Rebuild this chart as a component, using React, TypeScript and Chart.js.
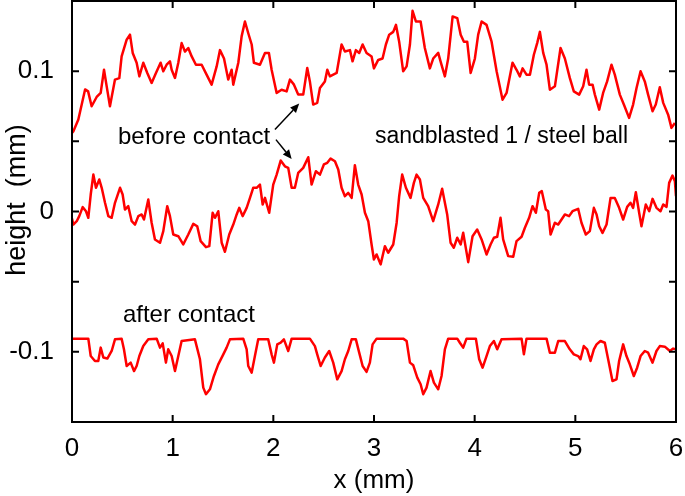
import React, { useEffect, useRef } from 'react';
import { Chart, registerables } from 'chart.js';

Chart.register(...registerables);

// Profile "before contact" (upper trace), x in mm, height in mm
const beforeUpper: [number, number][] = [
  [0, 0.056], [0.013, 0.057], [0.063, 0.0655], [0.13, 0.087], [0.16, 0.0856], [0.195, 0.075], [0.245, 0.0816],
  [0.285, 0.0845], [0.318, 0.101], [0.345, 0.089], [0.377, 0.075], [0.427, 0.094], [0.47, 0.095],
  [0.493, 0.1105], [0.543, 0.1224], [0.576, 0.126], [0.603, 0.113], [0.642, 0.106], [0.669, 0.0963],
  [0.708, 0.106], [0.748, 0.0987], [0.791, 0.0916], [0.834, 0.0987], [0.88, 0.106], [0.907, 0.0999],
  [0.94, 0.1046], [0.973, 0.107], [0.99, 0.101], [1.023, 0.0952], [1.056, 0.106], [1.089, 0.12],
  [1.122, 0.114], [1.155, 0.1165], [1.189, 0.1105], [1.231, 0.1046], [1.288, 0.1046], [1.337, 0.0975],
  [1.387, 0.0904], [1.437, 0.1034], [1.47, 0.115], [1.51, 0.109], [1.552, 0.094], [1.586, 0.101],
  [1.602, 0.0904], [1.652, 0.106], [1.685, 0.1248], [1.718, 0.1354], [1.751, 0.127], [1.785, 0.119],
  [1.807, 0.106], [1.867, 0.1046], [1.917, 0.113], [1.956, 0.113], [1.983, 0.101], [2.033, 0.0845],
  [2.082, 0.0868], [2.132, 0.0856], [2.165, 0.094], [2.205, 0.0904], [2.247, 0.0833], [2.297, 0.0833],
  [2.337, 0.1023], [2.363, 0.0927], [2.396, 0.0762], [2.436, 0.0774], [2.463, 0.088], [2.512, 0.0927],
  [2.536, 0.101], [2.562, 0.0963], [2.629, 0.0987], [2.678, 0.119], [2.711, 0.114], [2.761, 0.115],
  [2.787, 0.107], [2.82, 0.115], [2.853, 0.113], [2.887, 0.119], [2.926, 0.113], [2.976, 0.1105],
  [2.999, 0.102], [3.042, 0.108], [3.085, 0.109], [3.118, 0.119], [3.151, 0.126], [3.191, 0.128],
  [3.218, 0.133], [3.25, 0.121], [3.29, 0.0999], [3.324, 0.1034], [3.357, 0.119], [3.383, 0.143],
  [3.416, 0.1354], [3.463, 0.1354], [3.505, 0.1165], [3.555, 0.102], [3.588, 0.109], [3.638, 0.113],
  [3.661, 0.107], [3.704, 0.0963], [3.737, 0.109], [3.781, 0.139], [3.827, 0.1378], [3.861, 0.126],
  [3.893, 0.121], [3.926, 0.121], [3.96, 0.0987], [4.002, 0.109], [4.035, 0.126], [4.069, 0.1354],
  [4.118, 0.133], [4.168, 0.121], [4.218, 0.0999], [4.277, 0.0797], [4.317, 0.0845], [4.376, 0.106],
  [4.416, 0.101], [4.449, 0.0963], [4.476, 0.102], [4.515, 0.0975], [4.549, 0.0975], [4.588, 0.1117],
  [4.621, 0.12], [4.648, 0.128], [4.681, 0.113], [4.714, 0.1046], [4.747, 0.0868], [4.797, 0.0892],
  [4.853, 0.1165], [4.896, 0.109], [4.945, 0.0952], [4.985, 0.0856], [5.038, 0.0833], [5.078, 0.0892],
  [5.111, 0.101], [5.137, 0.0904], [5.171, 0.0904], [5.194, 0.0833], [5.237, 0.0726], [5.276, 0.0845],
  [5.316, 0.0927], [5.359, 0.1046], [5.392, 0.0975], [5.442, 0.0833], [5.482, 0.0762], [5.534, 0.0667],
  [5.574, 0.0762], [5.608, 0.088], [5.648, 0.0999], [5.69, 0.0927], [5.723, 0.0833], [5.767, 0.0714],
  [5.799, 0.0762], [5.839, 0.0885], [5.873, 0.0774], [5.922, 0.069], [5.955, 0.0596], [5.989, 0.0631],
];

// Profile "before contact" (middle trace)
const beforeLower: [number, number][] = [
  [0, -0.005], [0.013, -0.0093], [0.047, -0.0069], [0.072, -0.0033], [0.106, 0.0031], [0.139, 0.0002],
  [0.162, -0.0045], [0.186, 0.0121], [0.212, 0.0263], [0.238, 0.0169], [0.271, 0.0228], [0.295, 0.0169],
  [0.328, 0.0062], [0.361, -0.0033], [0.394, -0.0045], [0.427, 0.0062], [0.477, 0.0169], [0.503, 0.0121],
  [0.526, 0.0014], [0.559, 0.0038], [0.593, -0.0069], [0.626, -0.0093], [0.659, -0.0033], [0.692, -0.0021],
  [0.715, -0.0057], [0.758, 0.0085], [0.791, -0.008], [0.824, -0.0199], [0.874, -0.0223], [0.907, -0.014],
  [0.946, 0.0038], [0.973, -0.0033], [1.006, -0.0164], [1.056, -0.0176], [1.105, -0.0235], [1.155, -0.0164],
  [1.205, -0.0088], [1.244, -0.0105], [1.278, -0.0211], [1.331, -0.0254], [1.364, -0.0247], [1.397, -0.0009],
  [1.42, -0.0045], [1.453, 0.0002], [1.487, -0.0223], [1.519, -0.0287], [1.562, -0.0164], [1.602, -0.0093],
  [1.636, -0.0021], [1.661, 0.0026], [1.695, -0.0033], [1.735, 0.0026], [1.768, 0.0097], [1.8, 0.0169],
  [1.834, 0.0169], [1.867, 0.0192], [1.894, 0.005], [1.917, 0.0097], [1.959, -0.0009], [1.999, 0.0192],
  [2.033, 0.0263], [2.073, 0.0363], [2.115, 0.0322], [2.148, 0.0311], [2.182, 0.0169], [2.214, 0.0169],
  [2.247, 0.0275], [2.297, 0.0311], [2.347, 0.0387], [2.38, 0.0192], [2.423, 0.0287], [2.463, 0.0263],
  [2.502, 0.0335], [2.536, 0.0347], [2.569, 0.0377], [2.612, 0.0358], [2.645, 0.0299], [2.678, 0.0169],
  [2.711, 0.0109], [2.744, 0.0133], [2.778, 0.0097], [2.81, 0.033], [2.843, 0.0192], [2.877, 0.0121],
  [2.91, -0.0009], [2.943, -0.0069], [2.976, -0.0235], [2.999, -0.0342], [3.026, -0.0306], [3.066, -0.0377],
  [3.108, -0.0247], [3.141, -0.0294], [3.191, -0.0235], [3.225, -0.008], [3.25, 0.0109], [3.28, 0.0263],
  [3.317, 0.0169], [3.363, 0.0097], [3.396, 0.0204], [3.423, 0.0263], [3.456, 0.0228], [3.489, 0.0097],
  [3.538, 0.0038], [3.588, -0.0069], [3.638, 0.005], [3.677, 0.0162], [3.727, -0.0021], [3.761, -0.0223],
  [3.793, -0.0258], [3.827, -0.0187], [3.861, -0.0235], [3.886, -0.0152], [3.936, -0.0361], [3.979, -0.0176],
  [4.025, -0.0128], [4.069, -0.0199], [4.118, -0.0306], [4.158, -0.0235], [4.191, -0.0187], [4.224, -0.018],
  [4.257, -0.0045], [4.283, -0.0199], [4.333, -0.0318], [4.383, -0.0323], [4.416, -0.0211], [4.466, -0.018],
  [4.499, -0.0116], [4.541, -0.0045], [4.575, 0.0038], [4.608, -0.0009], [4.641, 0.0133], [4.667, 0.0145],
  [4.707, 0.0014], [4.73, 0.0002], [4.754, -0.0164], [4.797, -0.008], [4.83, -0.0093], [4.863, -0.0057],
  [4.896, -0.0021], [4.938, -0.0033], [4.972, 0.0002], [5.028, 0.0019], [5.061, -0.008], [5.104, -0.0164],
  [5.144, -0.014], [5.184, 0.0026], [5.211, -0.0021], [5.237, -0.0105], [5.27, -0.0152], [5.31, -0.0093],
  [5.35, 0.0097], [5.392, 0.0097], [5.435, 0.0026], [5.475, -0.0057], [5.515, 0.0033], [5.548, 0.0062],
  [5.574, 0.0026], [5.601, 0.0137], [5.634, -0.0009], [5.657, -0.0105], [5.7, 0.005], [5.734, 0.0002],
  [5.767, 0.009], [5.806, 0.0026], [5.846, 0.0002], [5.873, 0.005], [5.906, 0.0033], [5.932, 0.0204],
  [5.965, 0.0256], [5.989, 0.0216], [6.0, 0.0109],
];

// Profile "after contact" (lower trace)
const afterContact: [number, number][] = [
  [0, -0.0906], [0.02, -0.0906], [0.162, -0.0906], [0.186, -0.103], [0.228, -0.1065], [0.261, -0.1065],
  [0.285, -0.097], [0.311, -0.104], [0.351, -0.1048], [0.394, -0.0994], [0.427, -0.0911], [0.493, -0.0906],
  [0.516, -0.0982], [0.543, -0.1101], [0.583, -0.1077], [0.616, -0.1137], [0.642, -0.1101], [0.669, -0.103],
  [0.708, -0.0959], [0.758, -0.0911], [0.841, -0.0906], [0.874, -0.097], [0.901, -0.094], [0.933, -0.1077],
  [0.956, -0.0982], [0.99, -0.103], [1.023, -0.1137], [1.056, -0.103], [1.089, -0.0923], [1.221, -0.0911],
  [1.271, -0.1053], [1.304, -0.1255], [1.331, -0.1302], [1.37, -0.1267], [1.41, -0.1172], [1.453, -0.1089],
  [1.503, -0.1018], [1.536, -0.097], [1.569, -0.0911], [1.701, -0.0906], [1.735, -0.0982], [1.751, -0.1101],
  [1.785, -0.1148], [1.817, -0.103], [1.85, -0.0911], [1.949, -0.0911], [1.983, -0.1018], [2.006, -0.1077],
  [2.039, -0.0947], [2.073, -0.0935], [2.105, -0.0911], [2.148, -0.0994], [2.182, -0.0906], [2.363, -0.0906],
  [2.413, -0.0959], [2.436, -0.1018], [2.47, -0.1101], [2.512, -0.104], [2.555, -0.0994], [2.595, -0.1077],
  [2.635, -0.1196], [2.678, -0.1137], [2.711, -0.1053], [2.744, -0.0994], [2.778, -0.0911], [2.82, -0.0911],
  [2.853, -0.1006], [2.887, -0.1101], [2.926, -0.1143], [2.959, -0.1077], [2.986, -0.0947], [3.026, -0.0906],
  [3.29, -0.0906], [3.324, -0.0923], [3.357, -0.1077], [3.39, -0.1096], [3.43, -0.1184], [3.463, -0.1231],
  [3.489, -0.1302], [3.522, -0.1255], [3.562, -0.1137], [3.595, -0.1219], [3.638, -0.1267], [3.671, -0.1172],
  [3.704, -0.0982], [3.737, -0.0906], [3.827, -0.0906], [3.853, -0.0935], [3.886, -0.097], [3.919, -0.0906],
  [4.012, -0.0906], [4.045, -0.1053], [4.079, -0.1113], [4.118, -0.103], [4.151, -0.0959], [4.191, -0.0923],
  [4.224, -0.0982], [4.267, -0.0911], [4.466, -0.0906], [4.489, -0.1018], [4.515, -0.0906], [4.714, -0.0906],
  [4.747, -0.1006], [4.797, -0.1006], [4.83, -0.0923], [4.896, -0.0923], [4.945, -0.0982], [4.985, -0.1018],
  [5.028, -0.103], [5.051, -0.1053], [5.084, -0.0959], [5.117, -0.0982], [5.151, -0.1065], [5.184, -0.0982],
  [5.211, -0.0947], [5.25, -0.0923], [5.293, -0.0935], [5.326, -0.1053], [5.369, -0.1208], [5.409, -0.1196],
  [5.435, -0.1065], [5.475, -0.0947], [5.508, -0.103], [5.541, -0.1089], [5.581, -0.1172], [5.614, -0.1113],
  [5.648, -0.103], [5.69, -0.0994], [5.723, -0.1006], [5.767, -0.1077], [5.806, -0.0994], [5.839, -0.0959],
  [5.889, -0.0963], [5.939, -0.0994], [5.972, -0.0977], [6.0, -0.0982],
];

const xTickValues = [0, 1, 2, 3, 4, 5, 6];
const yTickValues = [-0.15, -0.1, -0.05, 0, 0.05, 0.1, 0.15];
const yTickLabels = ['', '-0.1', '', '0', '', '0.1', ''];

const xTitle = 'x (mm)';
const yTitle = 'height  (mm)';

const labels = [
  { text: 'before contact', x: 0.457, y: 0.0484, size: 24 },
  { text: 'sandblasted 1 / steel ball', x: 3.009, y: 0.0491, size: 23 },
  { text: 'after contact', x: 0.506, y: -0.079, size: 24 },
];

const arrows = [
  { from: [2.016, 0.0584], to: [2.257, 0.0769] },
  { from: [2.026, 0.0512], to: [2.182, 0.0375] },
];

const FONT = '"Liberation Sans", Arial, Helvetica, sans-serif';

const decorPlugin = {
  id: 'decor',
  afterDatasetsDraw(chart: any) {
    const { ctx, chartArea: a, scales } = chart;
    const xs = scales.x;
    const ys = scales.y;
    ctx.save();
    ctx.strokeStyle = '#000';
    ctx.lineWidth = 2;
    ctx.strokeRect(a.left, a.top, a.right - a.left, a.bottom - a.top);
    const L = 7;
    ctx.beginPath();
    xTickValues.forEach((v) => {
      const px = xs.getPixelForValue(v);
      ctx.moveTo(px, a.bottom);
      ctx.lineTo(px, a.bottom - L);
      ctx.moveTo(px, a.top);
      ctx.lineTo(px, a.top + L);
    });
    yTickValues.forEach((v) => {
      const py = ys.getPixelForValue(v);
      ctx.moveTo(a.left, py);
      ctx.lineTo(a.left + L, py);
      ctx.moveTo(a.right, py);
      ctx.lineTo(a.right - L, py);
    });
    ctx.stroke();

    // annotations
    ctx.fillStyle = '#000';
    ctx.textAlign = 'left';
    ctx.textBaseline = 'alphabetic';
    labels.forEach((l) => {
      ctx.font = `${l.size}px ${FONT}`;
      ctx.fillText(l.text, xs.getPixelForValue(l.x), ys.getPixelForValue(l.y));
    });

    ctx.lineWidth = 1.5;
    arrows.forEach((ar) => {
      const x1 = xs.getPixelForValue(ar.from[0]);
      const y1 = ys.getPixelForValue(ar.from[1]);
      const x2 = xs.getPixelForValue(ar.to[0]);
      const y2 = ys.getPixelForValue(ar.to[1]);
      const ang = Math.atan2(y2 - y1, x2 - x1);
      const hl = 9;
      const hw = 4;
      const bx = x2 - hl * Math.cos(ang);
      const by = y2 - hl * Math.sin(ang);
      ctx.beginPath();
      ctx.moveTo(x1, y1);
      ctx.lineTo(bx, by);
      ctx.stroke();
      ctx.beginPath();
      ctx.moveTo(x2, y2);
      ctx.lineTo(bx + hw * Math.sin(ang), by - hw * Math.cos(ang));
      ctx.lineTo(bx - hw * Math.sin(ang), by + hw * Math.cos(ang));
      ctx.closePath();
      ctx.fill();
    });

    // axis titles
    ctx.font = `26px ${FONT}`;
    ctx.textAlign = 'center';
    ctx.textBaseline = 'middle';
    ctx.fillText(xTitle, (a.left + a.right) / 2, 481);
    ctx.save();
    ctx.font = `27px ${FONT}`;
    ctx.translate(18, 200);
    ctx.rotate(-Math.PI / 2);
    ctx.fillText(yTitle, 0, 0);
    ctx.restore();
    ctx.restore();
  },
};

const zeroPad = (s: any) => {
  s.paddingTop = 0;
  s.paddingBottom = 0;
  s.paddingLeft = 0;
  s.paddingRight = 0;
};

export default function App() {
  const ref = useRef<HTMLCanvasElement | null>(null);
  useEffect(() => {
    document.body.style.margin = '0';
    if (!ref.current) return;
    const toPts = (arr: [number, number][]) => arr.map(([x, y]) => ({ x, y }));
    const ds = (data: [number, number][], label: string) => ({
      label,
      data: toPts(data),
      borderColor: '#ff0000',
      borderWidth: 2.5,
      borderJoinStyle: 'round' as const,
      pointRadius: 0,
      tension: 0,
      fill: false,
    });
    const chart = new Chart(ref.current, {
      type: 'line',
      data: {
        datasets: [
          ds(beforeUpper, 'before contact (upper)'),
          ds(beforeLower, 'before contact (lower)'),
          ds(afterContact, 'after contact'),
        ],
      },
      options: {
        animation: false,
        responsive: false,
        events: [],
        layout: { padding: { top: 1, right: 9, bottom: 0, left: 0 } },
        plugins: { legend: { display: false }, tooltip: { enabled: false } },
        scales: {
          x: {
            type: 'linear',
            min: 0,
            max: 6,
            afterFit: (s: any) => { s.height = 74; zeroPad(s); },
            afterBuildTicks: (s: any) => { s.ticks = xTickValues.map((v) => ({ value: v })); },
            grid: { display: false, drawTicks: false },
            border: { display: false },
            ticks: {
              padding: 11,
              color: '#000',
              font: { size: 26, family: FONT },
              maxRotation: 0,
              callback: (v: any) => String(v),
            },
          },
          y: {
            type: 'linear',
            min: -0.15,
            max: 0.15,
            afterFit: (s: any) => { s.width = 72; zeroPad(s); },
            afterBuildTicks: (s: any) => { s.ticks = yTickValues.map((v) => ({ value: v })); },
            grid: { display: false, drawTicks: false },
            border: { display: false },
            ticks: {
              padding: 18,
              color: '#000',
              font: { size: 26, family: FONT },
              callback: (_v: any, i: number) => yTickLabels[i],
            },
          },
        },
      },
      plugins: [decorPlugin],
    });
    return () => chart.destroy();
  }, []);
  return (
    <div style={{ width: 685, height: 496 }}>
      <canvas ref={ref} width={685} height={496} style={{ display: 'block' }} />
    </div>
  );
}
